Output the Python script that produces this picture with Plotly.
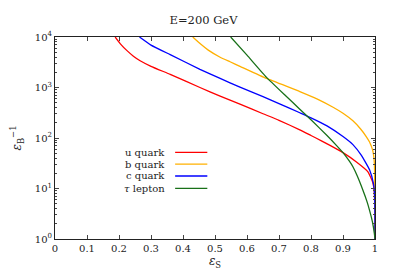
import plotly.graph_objects as go

names = ["u quark", "b quark", "c quark", "τ lepton"]
colors = ["#ff0000", "#ffb000", "#0000ff", "#187018"]

u_x = [0.188, 0.205, 0.225, 0.245, 0.266, 0.30, 0.36, 0.453, 0.516, 0.578, 0.65, 0.70, 0.765, 0.80, 0.834, 0.858, 0.90, 0.941, 0.978, 0.993, 0.998, 1.0]
u_y = [10000, 7240, 5370, 4170, 3390, 2630, 1820, 1000, 676, 468, 302, 224, 145, 112, 87, 72.4, 51.3, 33.9, 21.4, 13.2, 8.3, 1]

c_x = [0.264, 0.30, 0.36, 0.453, 0.516, 0.578, 0.65, 0.70, 0.765, 0.80, 0.85, 0.90, 0.931, 0.957, 0.983, 0.995, 0.999, 1.0]
c_y = [10000, 6920, 4470, 2290, 1510, 1020, 661, 479, 316, 251, 174, 107, 74, 45.7, 23.4, 12.6, 7.1, 1]

b_x = [0.4305, 0.455, 0.479, 0.516, 0.547, 0.578, 0.661, 0.765, 0.82, 0.869, 0.90, 0.931, 0.955, 0.9726, 0.983, 0.993, 0.998, 1.0]
b_y = [10000, 7240, 5500, 3980, 3240, 2630, 1510, 832, 589, 407, 309, 219, 151, 107, 83, 56, 31.6, 1]

t_x = [0.549, 0.60, 0.661, 0.72, 0.765, 0.80, 0.85, 0.88, 0.90, 0.92, 0.931, 0.945, 0.962, 0.975, 0.983, 0.992, 0.998, 1.0]
t_y = [10000, 4370, 1585, 692, 372, 229, 112, 70.8, 51.3, 34.7, 26.9, 17.4, 9.3, 5.5, 3.7, 2.19, 1.29, 1]

x_ticks = [0, 0.1, 0.2, 0.3, 0.4, 0.5, 0.6, 0.7, 0.8, 0.9, 1]
x_labels = ["0", "0.1", "0.2", "0.3", "0.4", "0.5", "0.6", "0.7", "0.8", "0.9", "1"]
y_ticks = [1, 10, 100, 1000, 10000]
y_labels = ["10<sup>0</sup>", "10<sup>1</sup>", "10<sup>2</sup>", "10<sup>3</sup>", "10<sup>4</sup>"]
y_minor = [m * 10 ** d for d in range(4) for m in range(2, 10)]

series = [(u_x, u_y), (b_x, b_y), (c_x, c_y), (t_x, t_y)]

FONT = "DejaVu Serif"
TXT = "#222222"
fig = go.Figure()
for (xs, ys), name, col in zip(series, names, colors):
    fig.add_trace(go.Scatter(x=xs, y=ys, mode="lines", name=name,
                             line=dict(color=col, width=1.3, shape="spline", smoothing=0.4),
                             showlegend=False))

# gnuplot-style key: text right-aligned, sample line on its right
key_y = [0.429, 0.371, 0.312, 0.251]
for name, col, ky in zip(names, colors, key_y):
    label = name.replace("τ", "<i>τ</i>")
    fig.add_annotation(x=0.3505, y=ky, xref="paper", yref="paper", text=label,
                       showarrow=False, xanchor="right", yanchor="middle",
                       font=dict(family=FONT, size=10, color=TXT))
    fig.add_shape(type="line", xref="paper", yref="paper", x0=0.3754, x1=0.476,
                  y0=ky, y1=ky, line=dict(color=col, width=1.3))

fig.update_layout(
    width=391, height=271,
    margin=dict(l=46.5, r=23.5, t=29, b=40, autoexpand=False),
    paper_bgcolor="white", plot_bgcolor="white",
    font=dict(family=FONT, size=10, color=TXT),
    title=dict(text="E=200 GeV", x=0.5, xanchor="center", y=1 - 11.5 / 271, yanchor="middle",
               font=dict(family=FONT, size=11.5, color=TXT)),
)
fig.update_xaxes(range=[0, 1], tickvals=x_ticks, ticktext=x_labels, automargin=False,
                 ticks="inside", ticklen=4, tickcolor="#444", mirror="allticks",
                 showline=True, linecolor="#222", linewidth=1, showgrid=False, zeroline=False,
                 title=dict(text="<i>ε</i><sub>S</sub>", standoff=3, font=dict(family=FONT, size=12)))
fig.update_yaxes(type="log", range=[0, 4], tickvals=y_ticks, ticktext=y_labels, automargin=False,
                 ticks="inside", ticklen=4, tickcolor="#444", mirror="allticks",
                 minor=dict(tickvals=y_minor, ticks="inside", ticklen=2, tickcolor="#444"),
                 showline=True, linecolor="#222", linewidth=1, showgrid=False, zeroline=False,
                 title=dict(text="<i>ε</i><sub>B</sub><sup>−1</sup>", standoff=10, font=dict(family=FONT, size=12)))

fig.write_html("out.html")
